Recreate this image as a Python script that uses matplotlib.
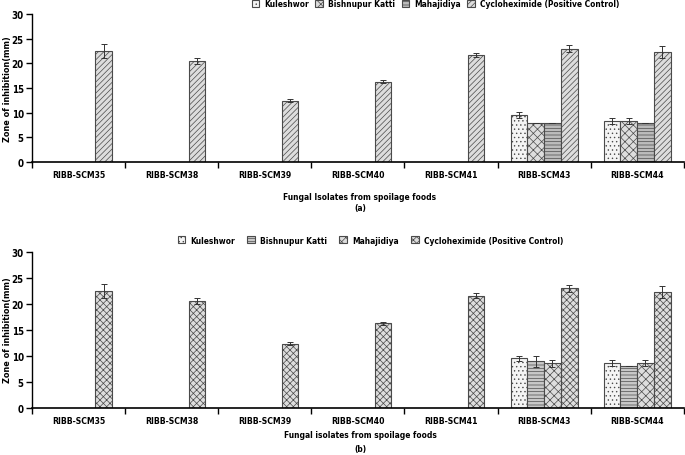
import matplotlib
matplotlib.use('Agg')
import matplotlib.pyplot as plt
import numpy as np

isolates = ['RIBB-SCM35', 'RIBB-SCM38', 'RIBB-SCM39', 'RIBB-SCM40',
            'RIBB-SCM41', 'RIBB-SCM43', 'RIBB-SCM44']
series = ['Kuleshwor', 'Bishnupur Katti', 'Mahajidiya', 'Cycloheximide (Positive Control)']

# panel (a)
a_vals = [[0, 0, 0, 0, 0, 9.6, 8.3],
          [0, 0, 0, 0, 0, 8.0, 8.3],
          [0, 0, 0, 0, 0, 8.0, 8.0],
          [22.5, 20.5, 12.4, 16.3, 21.7, 23.0, 22.3]]
a_errs = [[0, 0, 0, 0, 0, 0.6, 0.6],
          [0, 0, 0, 0, 0, 0, 0.6],
          [0, 0, 0, 0, 0, 0, 0],
          [1.4, 0.6, 0.3, 0.3, 0.4, 0.7, 1.2]]

# panel (b)
b_vals = [[0, 0, 0, 0, 0, 9.6, 8.7],
          [0, 0, 0, 0, 0, 9.0, 8.0],
          [0, 0, 0, 0, 0, 8.6, 8.6],
          [22.5, 20.6, 12.4, 16.3, 21.6, 23.0, 22.3]]
b_errs = [[0, 0, 0, 0, 0, 0.5, 0.6],
          [0, 0, 0, 0, 0, 1.1, 0],
          [0, 0, 0, 0, 0, 0.7, 0.6],
          [1.4, 0.6, 0.3, 0.3, 0.5, 0.6, 1.1]]

plt.rcParams['font.family'] = ['DejaVu Sans']
plt.rcParams['font.stretch'] = 'condensed'
plt.rcParams['font.weight'] = 'bold'
plt.rcParams['hatch.linewidth'] = 0.5
plt.rcParams['hatch.color'] = '#666666'

W, H = 685, 456
fig = plt.figure(figsize=(6.85, 4.56), dpi=100)
ax1 = fig.add_axes([0.047, 0.6425, 0.951, 0.3245])
ax2 = fig.add_axes([0.047, 0.103, 0.951, 0.342])


def draw(ax, vals, errs, hatches, faces, xlabel, tag, xl_y, tag_gap, leg_x, leg_y, colsp, yl_y):
    x = np.arange(len(isolates))
    w = 0.18
    for i in range(4):
        v = np.array(vals[i])
        e = np.array(errs[i])
        keep = v > 0
        ax.bar(x[keep] + (i - 1.5) * w, v[keep], w, color=faces[i],
               edgecolor='#4a4a4a', linewidth=0.8, hatch=hatches[i], label=series[i],
               yerr=e[keep], error_kw=dict(ecolor='#333333', elinewidth=0.7, capsize=2, capthick=0.7))
    ax.set_xlim(-0.5, len(isolates) - 0.5)
    ax.set_ylim(0, 30)
    ax.set_yticks([0, 5, 10, 15, 20, 25, 30])
    ax.set_xticks(x)
    ax.set_xticklabels(isolates, fontsize=6.2)
    ax.tick_params(axis='x', length=0, pad=6)
    ax.set_xticks(np.arange(-0.5, len(isolates) + 0.5), minor=True)
    ax.tick_params(axis='x', which='minor', length=4, direction='out', width=1)
    ax.tick_params(axis='y', labelsize=7, length=4, width=1, pad=2)
    for s in ['top', 'right']:
        ax.spines[s].set_visible(False)
    ax.spines['left'].set_linewidth(1)
    ax.spines['bottom'].set_linewidth(1.2)
    fig.text(8 / W, 1 - yl_y / H, 'Zone of inhibition(mm)', fontsize=6.5, rotation=90,
             ha='center', va='center')
    fig.text(360 / W, 1 - xl_y / H, xlabel, fontsize=6, ha='center', va='center')
    fig.text(360 / W, 1 - (xl_y + tag_gap) / H, tag, fontsize=6, ha='center', va='center')
    ax.legend(loc='center', bbox_to_anchor=(leg_x, leg_y), ncol=4, frameon=False,
              prop={'size': 6}, handlelength=0.9, handleheight=0.9,
              columnspacing=colsp, handletextpad=0.6, borderaxespad=0, borderpad=0)


draw(ax1, a_vals, a_errs, ['....', 'xxxx', '-----', '//////'],
     ['#f4f4f4', '#dddddd', '#bbbbbb', '#dddddd'],
     'Fungal Isolates from spoilage foods', '(a)', 197, 12, 0.619, 1.068, 0.8, 89)
draw(ax2, b_vals, b_errs, ['....', '-----', 'xxxx', 'xxxxx'],
     ['#f4f4f4', '#c8c8c8', '#dddddd', '#dddddd'],
     'Fungal isolates from spoilage foods', '(b)', 436, 14, 0.519, 1.077, 1.5, 330)

fig.savefig('out.png', dpi=100)
